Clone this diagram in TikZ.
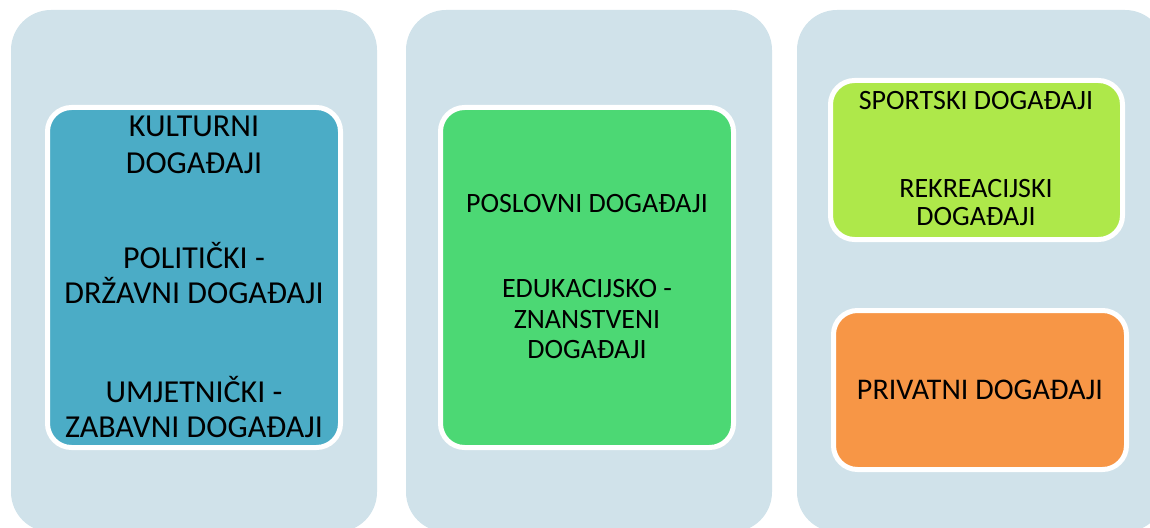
\documentclass[tikz,border=0pt]{standalone}
\usepackage{fontspec}
\setmainfont{Carlito}
\definecolor{panel}{HTML}{D0E2EA}
\definecolor{aqua}{HTML}{4BACC6}
\definecolor{green1}{HTML}{4CD874}
\definecolor{lime}{HTML}{AEE84A}
\definecolor{orange1}{HTML}{F79646}
\tikzset{
  panelbox/.style={fill=panel, rounded corners=30pt},
  itembox/.style={draw=white, line width=3.75pt, rounded corners=18pt},
  lbl/.style={anchor=base, inner sep=0pt, text=black},
  big/.style={font=\fontsize{24}{28}\selectfont},
  mid/.style={font=\fontsize{21}{25}\selectfont},
  lrg/.style={font=\fontsize{22.5}{27}\selectfont},
}
\begin{document}
\begin{tikzpicture}[x=0.75pt, y=-0.75pt]
\useasboundingbox (0,0) rectangle (1150,528);
\begin{scope}
\clip (0,0) rectangle (1150,528);
\fill[panelbox] (11,10) rectangle (377,532);
\fill[panelbox] (406,10) rectangle (772,532);
\fill[panelbox] (797,10) rectangle (1165,532);
\end{scope}
\filldraw[itembox, fill=aqua] (47.5,107.5) rectangle (340.5,447.5);
\filldraw[itembox, fill=green1] (440.5,107.5) rectangle (733.5,447.5);
\filldraw[itembox, fill=lime] (830.5,80.5) rectangle (1122.5,239.5);
\filldraw[itembox, fill=orange1] (833.5,310.5) rectangle (1126.5,469.5);
% box 1
\node[lbl, big] (k1) at (194,137) {KULTURNI};
\node[lbl, big] (k2) at (194,173) {DOGAĐAJI};
\node[lbl, big] (p1) at (194,268) {POLITIČKI -};
\node[lbl, big] (p2) at (194,303) {DRŽAVNI DOGAĐAJI};
\node[lbl, big] (u1) at (194,402) {UMJETNIČKI -};
\node[lbl, big] (u2) at (194,437) {ZABAVNI DOGAĐAJI};
% box 2
\node[lbl, mid] (b1) at (587,212) {POSLOVNI DOGAĐAJI};
\node[lbl, mid] (e1) at (587,297) {EDUKACIJSKO -};
\node[lbl, mid] (e2) at (587,328) {ZNANSTVENI};
\node[lbl, mid] (e3) at (587,358) {DOGAĐAJI};
% box 3
\node[lbl, mid] (s1) at (976,110) {SPORTSKI DOGAĐAJI};
\node[lbl, mid] (r1) at (976,197) {REKREACIJSKI};
\node[lbl, mid] (r2) at (976,225) {DOGAĐAJI};
% box 4
\node[lbl, lrg] (pv) at (980,399) {PRIVATNI DOGAĐAJI};
\end{tikzpicture}
\end{document}
